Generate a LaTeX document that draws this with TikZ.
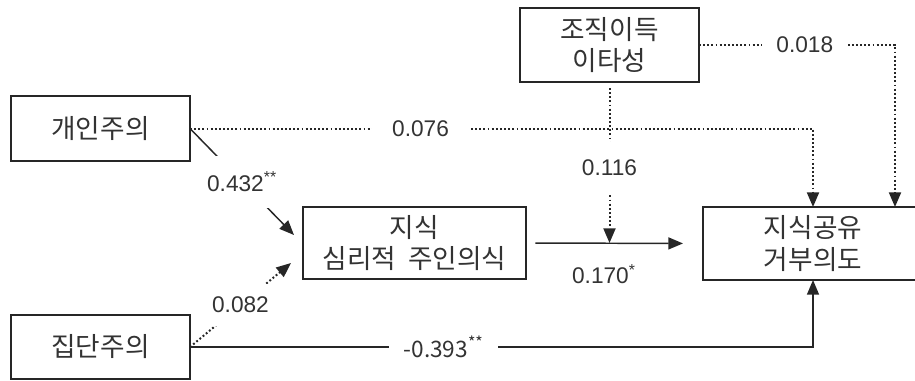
\documentclass[tikz,border=0pt]{standalone}
\usepackage{fontspec}
\setmainfont{Liberation Sans}
\newfontfamily\krfont{Noto Sans CJK KR}
\usetikzlibrary{arrows.meta}
\definecolor{pathInk}{HTML}{262626}
\definecolor{pathText}{HTML}{333333}
\tikzset{
  path diagram/.style={
    x=0.75pt, y=-0.75pt, line width=1.1pt, draw=pathInk,
    >={Triangle[length=11pt,width=9pt]},
    every node/.style={text=pathText, inner sep=0pt, outer sep=0pt}
  },
  path box/.style={draw=pathInk, line width=1.1pt, align=center,
    font=\krfont\fontsize{20}{23.5}\selectfont},
  path sig/.style={draw=pathInk, line width=1.1pt},
  path ns/.style={draw=pathInk, line width=1.5pt, dash pattern=on 1.4pt off 1.7pt},
  path coef/.style={fill=white, font=\fontsize{17}{20}\selectfont,
    inner xsep=11pt, inner ysep=4pt},
  path note/.style={font=\fontsize{17}{20}\selectfont}
}

\begin{document}
\begin{tikzpicture}[path diagram]
    \useasboundingbox (0,0) rectangle (915,380);
    \node[path box, minimum width=134.25pt, minimum height=48.75pt]
      (indiv) at (100.5,128.5) {개인주의};
    \node[path box, minimum width=134.25pt, minimum height=48pt]
      (coll) at (100.5,347) {집단주의};
    \node[path box, minimum width=134.25pt, minimum height=55.5pt]
      (altru) at (609.5,45) {조직이득\\이타성};
    \node[path box, minimum width=167.25pt, minimum height=54pt]
      (owner) at (414.5,243) {지식\\심리적\ \ 주인의식};
    \node[path box, minimum width=165pt, minimum height=54.75pt]
      (refuse) at (813,243.5) {지식공유\\거부의도};
    \coordinate (ownerIn1) at (294,235);
    \coordinate (ownerIn2) at (291,263);
    \coordinate (mod) at (altru.south |- owner.east);
    \coordinate (refuseTop2) at ([xshift=61.5pt]refuse.north);
    \draw[path sig,->] (indiv.east) -- node[path coef, inner xsep=2pt, inner ysep=12pt]
      {0.432\textsuperscript{**}} (ownerIn1);
    \draw[path ns,->] (coll.east) -- node[path coef, inner xsep=2pt, inner ysep=10pt]
      {0.082} (ownerIn2);
    \draw[path ns,->] (indiv.east) -- node[path coef, pos=0.37, inner xsep=15pt]
      {0.076} (indiv.east -| refuse.north) -- (refuse.north);
    \draw[path ns,->] (altru.east) -- node[path coef, pos=0.54]
      {0.018} (altru.east -| refuseTop2) -- (refuseTop2);
    \draw[path ns,->, shorten <=4.5pt] (altru.south) -- node[path coef, pos=0.53,
      inner xsep=2pt, inner ysep=13pt] {0.116} (mod);
    \draw[path sig,->, shorten <=7pt, shorten >=15pt] (owner.east) --
      node[path note, pos=0.44, below=16pt] {0.170\textsuperscript{*}} (refuse.west);
    \draw[path sig,->] (coll.east) -- node[path coef, pos=0.407,
      font=\krfont\fontsize{17}{20}\selectfont]
      {-0.393\textsuperscript{**}} (coll.east -| refuse.south) -- (refuse.south);
\end{tikzpicture}
\end{document}
